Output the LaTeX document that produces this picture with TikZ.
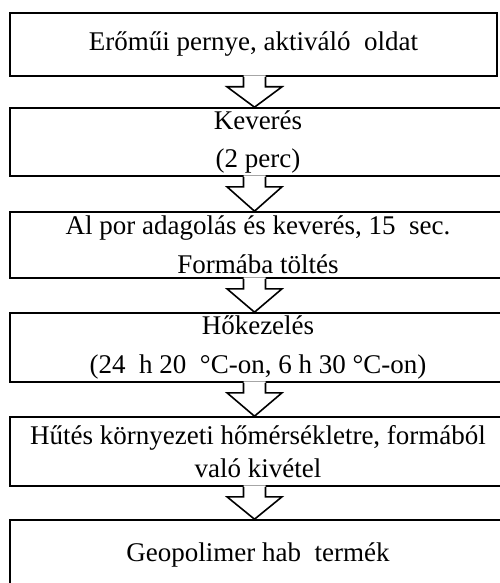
\documentclass[tikz,border=0pt]{standalone}
\usepackage{fontspec}
\setmainfont{Liberation Serif}
\usetikzlibrary{calc}

\tikzset{
  stage/.style={draw=black, line width=1.6pt, fill=white, rectangle,
    inner sep=0pt, align=center, font=\fontsize{27}{32.4}\selectfont},
  arrowfill/.style={fill=white},
  arrowline/.style={draw=black, line width=1.6pt, line join=miter}
}

% hollow block arrow from the bottom of box #1 to the top of box #2
\newcommand\flowarrow[2]{%
  \path[arrowfill] let \p1=(ax |- #1.south), \p2=(ax |- #2.north) in
    (\x1-11pt,\y1+1.5pt) -- (\x1-11pt,\y1-10pt) -- (\x1-27.5pt,\y1-10pt)
    -- (\x1,\y2) -- (\x1+27.5pt,\y1-10pt) -- (\x1+11pt,\y1-10pt)
    -- (\x1+11pt,\y1+1.5pt) -- cycle;
  \draw[arrowline] let \p1=(ax |- #1.south), \p2=(ax |- #2.north) in
    (\x1-11pt,\y1) -- (\x1-11pt,\y1-10pt) -- (\x1-27.5pt,\y1-10pt)
    -- (\x1,\y2) -- (\x1+27.5pt,\y1-10pt) -- (\x1+11pt,\y1-10pt)
    -- (\x1+11pt,\y1);
}

\begin{document}
\begin{tikzpicture}[x=1pt, y=-1pt]
  \useasboundingbox (0,0) rectangle (500,583);
  \clip (0,0) rectangle (500,583);
  \fill[white] (0,0) rectangle (500,583);

  \coordinate (ax) at (254.5,0);

  \node[stage, minimum width=487pt, minimum height=63pt] (b1) at (253.5,44.5)
    {Erőműi pernye, aktiváló\ \ oldat};
  \node[stage, minimum width=496pt, minimum height=68pt] (b2) at (258,142)
    {Keverés\\[6.5pt](2 perc)};
  \node[stage, minimum width=496pt, minimum height=66pt] (b3) at (258,245)
    {Al por adagolás és keverés, 15\ \ sec.\\[6.5pt]Formába töltés};
  \node[stage, minimum width=496pt, minimum height=69pt] (b4) at (258,347.5)
    {Hőkezelés\\[6.5pt](24\ \ h 20\ \ °C-on, 6 h 30 °C-on)};
  \node[stage, minimum width=496pt, minimum height=69pt] (b5) at (258,451.5)
    {Hűtés környezeti hőmérsékletre, formából\\való kivétel};
  \node[stage, minimum width=496pt, minimum height=70pt] (b6) at (258,555)
    {Geopolimer hab\ \ termék};

  \flowarrow{b1}{b2}
  \flowarrow{b2}{b3}
  \flowarrow{b3}{b4}
  \flowarrow{b4}{b5}
  \flowarrow{b5}{b6}
\end{tikzpicture}
\end{document}
